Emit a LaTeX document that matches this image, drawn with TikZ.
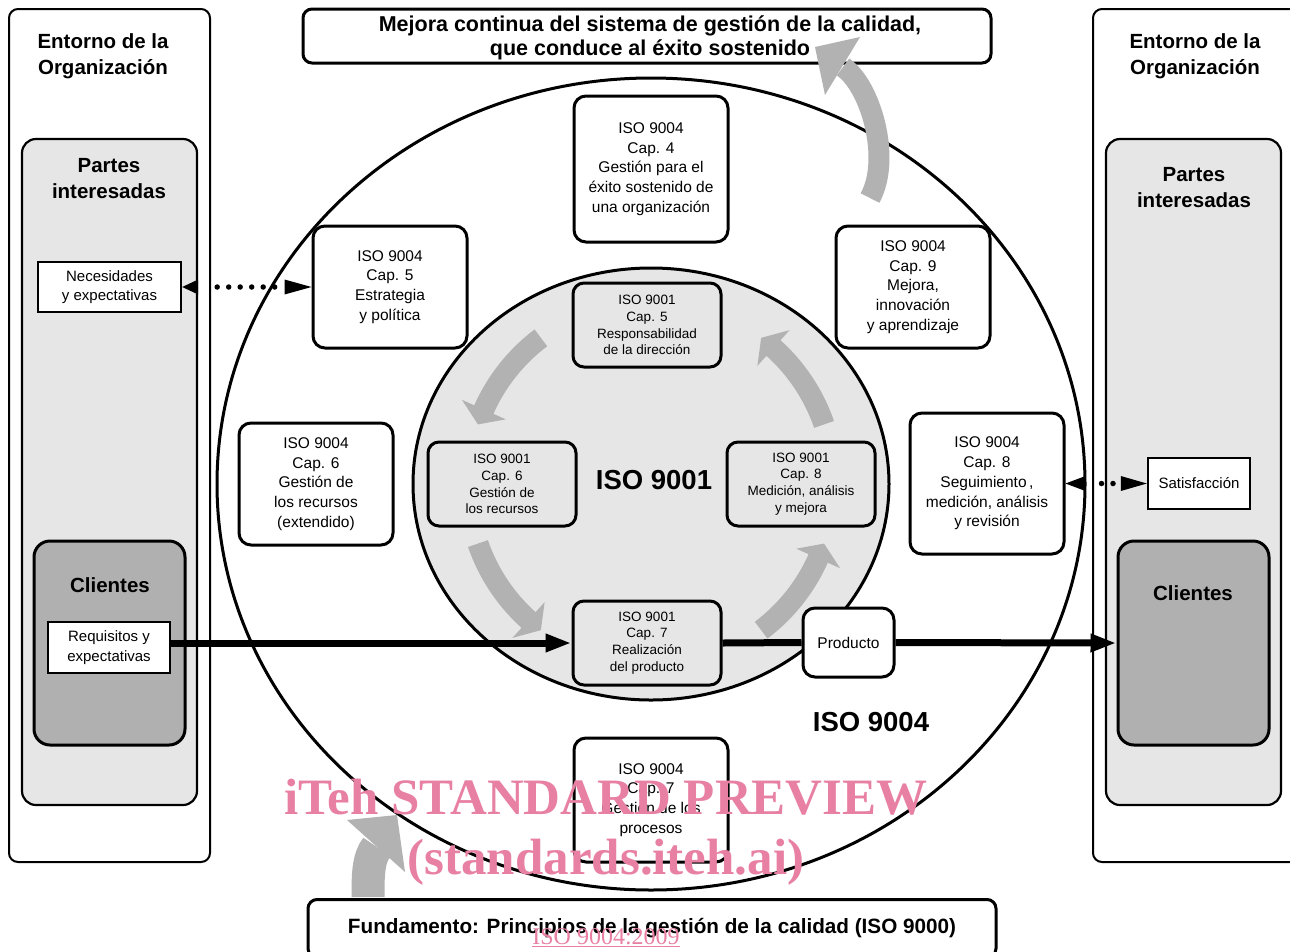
\documentclass[tikz,border=0pt]{standalone}
\usepackage{fontspec}
\setmainfont{Liberation Sans}
\newfontfamily\wmfont{Liberation Serif}
\usetikzlibrary{arrows.meta,calc}
\definecolor{lightg}{RGB}{230,230,230}
\definecolor{darkg}{RGB}{176,176,176}
\definecolor{arrg}{RGB}{178,178,178}
\definecolor{wmpink}{RGB}{232,128,163}
\newcommand\cycarrow[2]{%
  \pgfmathsetmacro\hbase{#2+5}%
  \fill[arrg] ($(ctr)+(#1:193.5)$) arc[start angle=#1, end angle=\hbase, radius=193.5]
    -- ($(ctr)+(\hbase:207)$) -- ($(ctr)+(#2:183)$) -- ($(ctr)+(\hbase:159)$)
    -- ($(ctr)+(\hbase:172.5)$) arc[start angle=\hbase, end angle=#1, radius=172.5] -- cycle;}
\begin{document}
\begin{tikzpicture}[x=1pt,y=-1pt,
  envbox/.style={draw, line width=2pt, rounded corners=9pt, fill=white, inner sep=0pt},
  partbox/.style={draw, line width=2.2pt, rounded corners=14pt, fill=lightg, inner sep=0pt},
  clibox/.style={draw, line width=3pt, rounded corners=16pt, fill=darkg, inner sep=0pt},
  needbox/.style={draw, line width=2.4pt, fill=white, inner sep=0pt, align=center, font=\fontsize{15}{19.5}\selectfont},
  obox/.style={draw, line width=3pt, rounded corners=12pt, fill=white, inner sep=0pt, minimum width=154pt, align=center, font=\fontsize{15.5}{19.7}\selectfont},
  ibox/.style={draw, line width=3pt, rounded corners=11pt, fill=lightg, inner sep=0pt, minimum width=148pt, minimum height=84pt, align=center, font=\fontsize{13.5}{16.7}\selectfont},
  head/.style={font=\fontsize{20.5}{26}\selectfont\bfseries, align=center},
  bigbox/.style={draw, line width=3pt, rounded corners=9pt, fill=white, inner sep=0pt, align=center},
  flow/.style={line width=7pt, -{Triangle[length=26pt,width=17pt]}},
  flowplain/.style={line width=7pt},
  dotline/.style={line width=5.5pt, line cap=round, dash pattern=on 0pt off 11.5pt},
  wm/.style={text=wmpink, font=\wmfont\bfseries\fontsize{51}{51}\selectfont},
  biglabel/.style={font=\fontsize{27.5}{30}\selectfont\bfseries}
]
\useasboundingbox (0,0) rectangle (1290,951);
\clip (0,0) rectangle (1290,951);
\fill[white] (0,0) rectangle (1290,951);
\coordinate (ctr) at (651,484);

% environment columns
\node[envbox, minimum width=201pt, minimum height=853pt] (envL) at (109.5,435.5) {};
\node[envbox, minimum width=207pt, minimum height=853pt] (envR) at (1196.5,435.5) {};
\node[partbox, minimum width=175pt, minimum height=666pt] (partL) at (109.5,472) {};
\node[partbox, minimum width=175pt, minimum height=666pt] (partR) at (1193.5,472) {};
\node[clibox, minimum width=151pt, minimum height=204pt] (cliL) at (109.5,643) {};
\node[clibox, minimum width=151pt, minimum height=204pt] (cliR) at (1193.5,643) {};
\node[needbox, minimum width=143pt, minimum height=50pt] (nec) at (109.5,287) {Necesidades\\y expectativas};
\node[needbox, minimum width=122pt, minimum height=51pt] (req) at (109,647.5) {Requisitos y\\expectativas};
\node[needbox, minimum width=102pt, minimum height=51pt] (sat) at (1199,483.5) {Satisfacción};

\node[head] (envLt) at (103,56.5) {Entorno de la\\Organización};
\node[head] (envRt) at (1195,56.5) {Entorno de la\\Organización};
\node[head] (partLt) at (109,178.5) {Partes\\interesadas};
\node[head] (partRt) at (1194,187.5) {Partes\\interesadas};
\node[head] (cliLt) at (110,585) {Clientes};
\node[head] (cliRt) at (1193,593) {Clientes};

% circles
\draw[line width=3pt] (ctr) ellipse[x radius=434, y radius=406];
\draw[line width=3pt, fill=lightg] (ctr) ellipse[x radius=238, y radius=216];

% top and bottom boxes
\node[bigbox, minimum width=688pt, minimum height=54pt] (top) at (647,36) {};
\node[font=\fontsize{21.5}{24}\selectfont\bfseries, align=center] (toptext) at (650,37.5) {Mejora continua del sistema de gestión de la calidad,\\que conduce al éxito sostenido};
\node[bigbox, minimum width=688pt, minimum height=58pt, font=\fontsize{20.7}{24}\selectfont\bfseries] (bot) at (652,928.5) {Fundamento: Principios de la gestión de la calidad (ISO 9000)};

% inner cycle arrows
\cycarrow{233}{199}
\cycarrow{161}{127}
\cycarrow{53}{19}
\cycarrow{341}{307}

% big grey arrows
\draw[arrg, line width=21pt] (870,198) .. controls (892,158) and (870,85) .. (843,67);
\fill[arrg] (815,47) -- (860,37) -- (825,95) -- cycle;
\draw[arrg, line width=33pt] (368,897) .. controls (368,876) and (368,858) .. (377,847);
\fill[arrg] (347,820) -- (397,815) -- (405,872) -- cycle;

% ISO 9004 boxes
\node[obox, minimum height=146pt] (c4o) at (651,169) {ISO 9004\\Cap. 4\\Gestión para el\\éxito sostenido de\\una organización};
\node[obox, minimum height=122pt] (c5o) at (390,287) {ISO 9004\\Cap. 5\\Estrategia\\y política};
\node[obox, minimum height=122pt] (c9o) at (913,287) {ISO 9004\\Cap. 9\\Mejora,\\innovación\\y aprendizaje};
\node[obox, minimum height=122pt] (c6o) at (316,484) {ISO 9004\\Cap. 6\\Gestión de\\los recursos\\(extendido)};
\node[obox, minimum height=141pt] (c8o) at (987,483.5) {ISO 9004\\Cap. 8\\Seguimiento\,,\\medición, análisis\\y revisión};
\node[obox, minimum height=124pt] (c7o) at (651,800) {ISO 9004\\Cap. 7\\Gestión de los\\procesos};

% ISO 9001 boxes
\node[ibox] (c5i) at (647,325) {ISO 9001\\Cap. 5\\Responsabilidad\\de la dirección};
\node[ibox] (c6i) at (502,484) {ISO 9001\\Cap. 6\\Gestión de\\los recursos};
\node[ibox] (c8i) at (801,484) {ISO 9001\\Cap. 8\\Medición, análisis\\y mejora};
\node[ibox] (c7i) at (647,643) {ISO 9001\\Cap. 7\\Realización\\del producto};

\node[obox, minimum width=91pt, minimum height=69pt] (prod) at (848.5,642.5) {Producto};

\node[biglabel] (l9001) at (654,480) {ISO 9001};
\node[biglabel] (l9004) at (871,722) {ISO 9004};

% flow arrows
\draw[flow] (req.east |- c7i.west) -- (c7i.west);
\draw[flowplain] (c7i.east) -- (prod.west);
\draw[flow] (prod.east) -- (cliR.west);

% dotted two-way arrows
\draw[dotline, shorten <=35pt, shorten >=32pt] (nec.east) -- (c5o.west);
\fill (nec.east) -- ++(16,-7.5) -- ++(0,15) -- cycle;
\fill (c5o.west) -- ++(-27,-7.5) -- ++(0,15) -- cycle;
\draw[dotline, shorten <=36pt, shorten >=32pt] (c8o.east) -- (sat.west);
\fill (c8o.east) -- ++(20,-7.5) -- ++(0,15) -- cycle;
\fill (sat.west) -- ++(-26,-7.5) -- ++(0,15) -- cycle;

% watermark
\node[wm, anchor=base] (wm1) at (606,814) {iTeh STANDARD PREVIEW};
\node[wm, anchor=base] (wm2) at (606,874) {(standards.iteh.ai)};
\node[text=wmpink, font=\wmfont\fontsize{24}{24}\selectfont, anchor=base] (wm3) at (606,944) {\underline{ISO 9004:2009}};
\end{tikzpicture}
\end{document}
